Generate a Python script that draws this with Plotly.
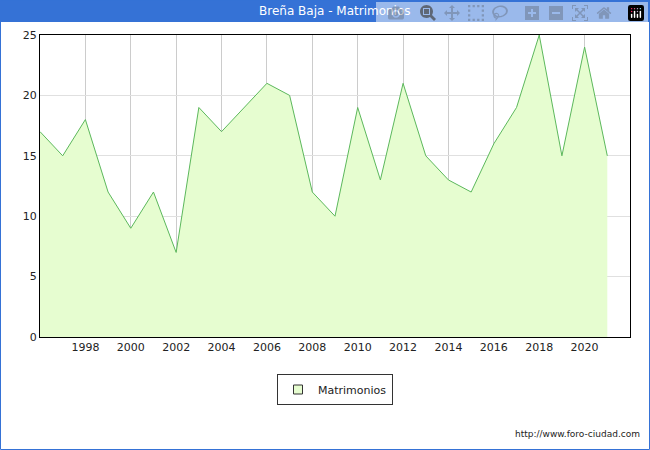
import plotly.graph_objects as go

years = list(range(1996, 2022))
values = [17, 15, 18, 12, 9, 12, 7, 19, 17, 19, 21, 20, 12, 10, 19, 13, 21, 15, 13, 12, 16, 19, 25, 15, 24, 15]

fig = go.Figure()
fig.add_trace(go.Scatter(x=years, y=values, mode="lines", fill="tozeroy",
                         fillcolor="#e6fdd0", line=dict(color="#5cb85c", width=1),
                         showlegend=False, name="Matrimonios"))
fig.add_trace(go.Scatter(x=[None], y=[None], mode="markers", name="Matrimonios",
                         marker=dict(symbol="square", size=9, color="#e6fdd0",
                                     line=dict(color="#333", width=1))))
H = 302
fig.update_layout(
    width=650, height=450, paper_bgcolor="white", plot_bgcolor="white",
    margin=dict(l=40, r=20, t=35, b=113),
    font=dict(family="DejaVu Sans", size=11, color="#222"),
    showlegend=True,
    legend=dict(orientation="h", x=0.5, xanchor="center", y=-37/H, yanchor="top",
                bordercolor="#333", borderwidth=1, font=dict(size=11),
                itemwidth=30, tracegroupgap=0),
    xaxis=dict(range=[1996, 2022], tickvals=list(range(1998, 2021, 2)), showgrid=True,
               gridcolor="#cccccc", showline=True, linecolor="black", mirror=True, ticks=""),
    yaxis=dict(range=[0, 25], tickvals=[0, 5, 10, 15, 20, 25], showgrid=True,
               gridcolor="#e0e0e0", showline=True, linecolor="black", mirror=True, ticks=""),
    shapes=[
        dict(type="rect", xref="paper", yref="paper", x0=-40/590, x1=610/590, y0=1+13/H, y1=1+35/H,
             fillcolor="#3572d6", line=dict(width=0), layer="above"),
        dict(type="rect", xref="paper", yref="paper", x0=-39.5/590, x1=609.5/590, y0=-112.5/H, y1=1+35/H,
             fillcolor="rgba(0,0,0,0)", line=dict(color="#3572d6", width=1)),
    ],
    annotations=[
        dict(text="Breña Baja - Matrimonios", xref="paper", yref="paper", x=0.5,
             y=1+24/H, xanchor="center", yanchor="middle", showarrow=False,
             font=dict(color="white", size=12)),
        dict(text="http://www.foro-ciudad.com", xref="paper", yref="paper", x=602/590,
             y=-97/H, xanchor="right", yanchor="middle", showarrow=False,
             font=dict(size=9)),
    ],
)
fig.write_html("out.html")
with open("out.html", encoding="utf-8") as f:
    html = f.read()
html = html.replace("<head>", "<head><style>body{margin:0;padding:0;}</style>", 1)
with open("out.html", "w", encoding="utf-8") as f:
    f.write(html)
